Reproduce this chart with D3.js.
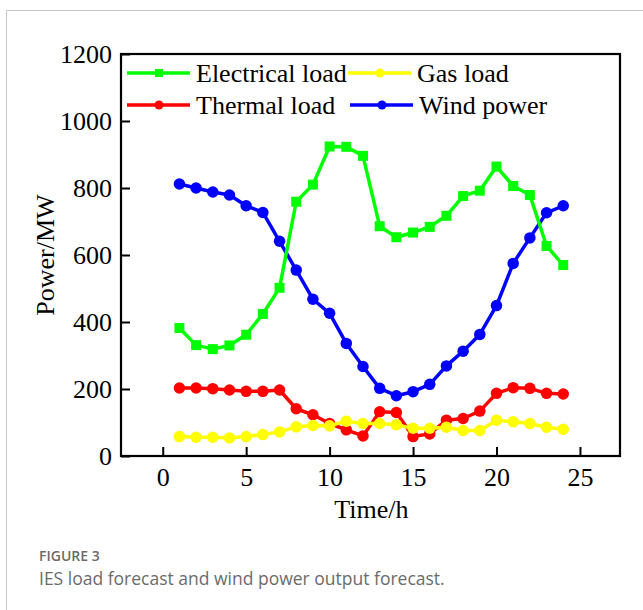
<!DOCTYPE html>
<html>
<head>
<meta charset="utf-8">
<script src="https://cdn.jsdelivr.net/npm/d3@7"></script>
<style>
  body { margin: 0; background: #fff; }
  svg { display: block; }
</style>
</head>
<body>
<div id="chart"></div>
<script>
// hours 1..24
var hours = d3.range(1, 25);

var electrical = [382, 331, 319, 330, 362, 424, 502, 759, 810, 924, 923, 896,
                  686, 653, 667, 684, 717, 776, 792, 864, 806, 779, 627, 570];
var gas = [58, 56, 56, 54, 58, 64, 72, 87, 91, 90, 104, 97,
           97, 93, 83, 83, 86, 76, 76, 107, 102, 97, 86, 80];
var thermal = [203, 203, 201, 197, 193, 193, 197, 141, 123, 97, 78, 60,
               132, 130, 58, 66, 107, 112, 134, 187, 204, 202, 187, 185];
var wind = [812, 800, 788, 779, 747, 727, 641, 555, 468, 426, 336, 267,
            202, 180, 192, 214, 269, 313, 363, 449, 575, 651, 726, 747];

var xTicks = [0, 5, 10, 15, 20, 25];
var yTicks = [0, 200, 400, 600, 800, 1000, 1200];

var series = [
    { name: "Thermal load", values: thermal, color: "#ff0000", shape: "circle" },
    { name: "Wind power", values: wind, color: "#0000ff", shape: "circle" },
    { name: "Electrical load", values: electrical, color: "#00ff00", shape: "square" },
    { name: "Gas load", values: gas, color: "#ffff00", shape: "circle" }
];

var W = 643, H = 610;
var margin = { top: 54, right: 23, bottom: 154, left: 121 },
    width = W - margin.left - margin.right,
    height = H - margin.top - margin.bottom;

var serif = "'Liberation Serif', 'Times New Roman', serif";

var root = d3.select("#chart")
    .append("svg")
    .attr("width", W)
    .attr("height", H);

// outer panel border (top + left)
root.append("path")
    .attr("d", "M6.5," + H + " V10.5 H" + W)
    .attr("fill", "none")
    .attr("stroke", "#c8c8c8")
    .attr("stroke-width", 1);

var svg = root.append("g")
    .attr("transform", "translate(" + margin.left + "," + margin.top + ")");

var xScale = d3.scaleLinear()
    .domain([-2.5, 27.4])
    .range([0, width]);

var yScale = d3.scaleLinear()
    .domain([0, 1200])
    .range([height, 0]);

var xAxis = svg.append("g")
    .attr("transform", "translate(0," + height + ")")
    .call(d3.axisBottom(xScale).tickValues(xTicks).tickFormat(d3.format("d"))
        .tickSizeInner(-9).tickSizeOuter(0).tickPadding(12));

var yAxis = svg.append("g")
    .call(d3.axisLeft(yScale).tickValues(yTicks).tickFormat(d3.format("d"))
        .tickSizeInner(-9).tickSizeOuter(0).tickPadding(9));

[xAxis, yAxis].forEach(function(a) {
    a.select(".domain").remove();
    a.selectAll(".tick line").attr("stroke", "#000").attr("stroke-width", 2);
    a.selectAll(".tick text")
        .attr("fill", "#000")
        .style("font-family", serif)
        .style("font-size", "26px");
});

// plot frame
svg.append("rect")
    .attr("x", 0)
    .attr("y", 0)
    .attr("width", width)
    .attr("height", height)
    .attr("fill", "none")
    .attr("stroke", "#000")
    .attr("stroke-width", 2.2);

// axis titles
svg.append("text")
    .attr("x", xScale(12.5))
    .attr("y", height + 62)
    .attr("text-anchor", "middle")
    .style("font-family", serif)
    .style("font-size", "26px")
    .text("Time/h");

svg.append("text")
    .attr("transform", "rotate(-90)")
    .attr("x", -height / 2)
    .attr("y", -67)
    .attr("text-anchor", "middle")
    .style("font-family", serif)
    .style("font-size", "26px")
    .text("Power/MW");

var line = d3.line()
    .x(function(d, i) { return xScale(hours[i]); })
    .y(function(d) { return yScale(d); });

function marker(g, shape, color, x, y, s) {
    if (shape == "square") {
        g.append("rect")
            .attr("x", x - s / 2).attr("y", y - s / 2)
            .attr("width", s).attr("height", s)
            .attr("fill", color);
    } else {
        g.append("circle")
            .attr("cx", x).attr("cy", y)
            .attr("r", s / 2)
            .attr("fill", color);
    }
}

series.forEach(function(s) {
    var g = svg.append("g");
    g.append("path")
        .datum(s.values)
        .attr("d", line)
        .attr("fill", "none")
        .attr("stroke", s.color)
        .attr("stroke-width", 3.5)
        .attr("stroke-linejoin", "round");
    s.values.forEach(function(v, i) {
        marker(g, s.shape, s.color, xScale(hours[i]), yScale(v), s.shape == "square" ? 10 : 11.5);
    });
});

// legend, 2 x 2
var legendItems = [
    { s: series[2], x: 6, y: 19 },
    { s: series[3], x: 227, y: 19 },
    { s: series[0], x: 6, y: 51 },
    { s: series[1], x: 229, y: 51 }
];

var legend = svg.append("g").attr("class", "legend");

legendItems.forEach(function(d) {
    var g = legend.append("g").attr("transform", "translate(" + d.x + "," + d.y + ")");
    g.append("line")
        .attr("x1", 0).attr("x2", 63)
        .attr("y1", 0).attr("y2", 0)
        .attr("stroke", d.s.color)
        .attr("stroke-width", 3.5);
    marker(g, d.s.shape, d.s.color, 32, 0, d.s.shape == "square" ? 8 : 9);
    g.append("text")
        .attr("x", 69)
        .attr("y", 9)
        .style("font-family", serif)
        .style("font-size", "26px")
        .text(d.s.name);
});

// caption
root.append("text")
    .attr("x", 39)
    .attr("y", 561)
    .attr("fill", "#6b6b6b")
    .style("font-family", "'Open Sans', sans-serif")
    .style("font-size", "14px")
    .style("font-weight", "600")
    .text("FIGURE 3");

root.append("text")
    .attr("x", 39)
    .attr("y", 585)
    .attr("fill", "#6b6b6b")
    .style("font-family", "'Open Sans', sans-serif")
    .style("font-size", "17.5px")
    .text("IES load forecast and wind power output forecast.");
</script>
</body>
</html>
